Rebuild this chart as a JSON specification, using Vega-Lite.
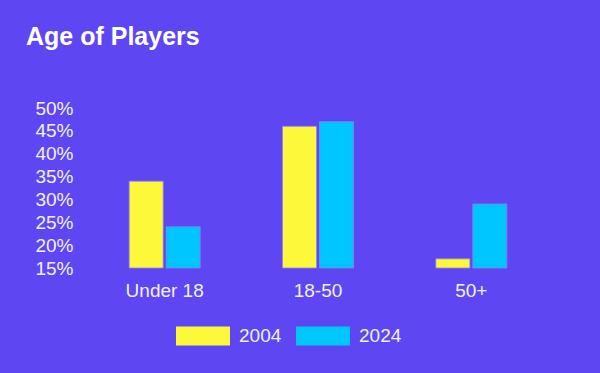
{
  "$schema": "https://vega.github.io/schema/vega-lite/v6.json",
  "width": 460,
  "height": 160,
  "autosize": "none",
  "padding": {"left": 88, "top": 108, "right": 52, "bottom": 105},
  "background": "#5e46f3",
  "title": {
    "text": "Age of Players",
    "anchor": "start",
    "frame": "group",
    "dx": -62,
    "dy": -45,
    "font": "Liberation Sans",
    "fontSize": 25,
    "fontWeight": "bold",
    "color": "#ffffff"
  },
  "data": {
    "values": [
      {"age": "Under 18", "year": "2004", "pct": 34},
      {"age": "Under 18", "year": "2024", "pct": 24},
      {"age": "18-50", "year": "2004", "pct": 46},
      {"age": "18-50", "year": "2024", "pct": 47},
      {"age": "50+", "year": "2004", "pct": 17},
      {"age": "50+", "year": "2024", "pct": 29}
    ]
  },
  "mark": {"type": "bar", "stroke": "#8f80f4", "strokeWidth": 0.8},
  "encoding": {
    "x": {
      "field": "age",
      "type": "nominal",
      "sort": ["Under 18", "18-50", "50+"],
      "scale": {"paddingInner": 0.537, "paddingOuter": 0.2685},
      "axis": {
        "title": null,
        "labelAngle": 0,
        "domain": false,
        "ticks": false,
        "labelPadding": 13,
        "labelFont": "Liberation Sans",
        "labelFontSize": 19,
        "labelColor": "#f2f0ff"
      }
    },
    "xOffset": {
      "field": "year",
      "type": "nominal",
      "scale": {"paddingInner": 0.08, "paddingOuter": 0}
    },
    "y": {
      "field": "pct",
      "type": "quantitative",
      "scale": {"domain": [15, 50], "zero": false, "nice": false},
      "axis": {
        "title": null,
        "values": [15, 20, 25, 30, 35, 40, 45, 50],
        "labelExpr": "datum.value + '%'",
        "domain": false,
        "ticks": false,
        "grid": false,
        "labelPadding": 15,
        "labelFont": "Liberation Sans",
        "labelFontSize": 19,
        "labelColor": "#f2f0ff"
      }
    },
    "y2": {"datum": 15},
    "color": {
      "field": "year",
      "type": "nominal",
      "scale": {"domain": ["2004", "2024"], "range": ["#fdf93a", "#00c6ff"]},
      "legend": {
        "title": null,
        "orient": "none",
        "direction": "horizontal",
        "legendX": 88,
        "legendY": 201,
        "symbolType": "M-1,-0.352H1V0.352H-1Z",
        "symbolSize": 2916,
        "symbolStrokeWidth": 0,
        "symbolOpacity": 1,
        "labelOffset": 9,
        "columnPadding": 14,
        "labelFont": "Liberation Sans",
        "labelFontSize": 19,
        "labelColor": "#f2f0ff"
      }
    }
  },
  "config": {"view": {"stroke": null}}
}
